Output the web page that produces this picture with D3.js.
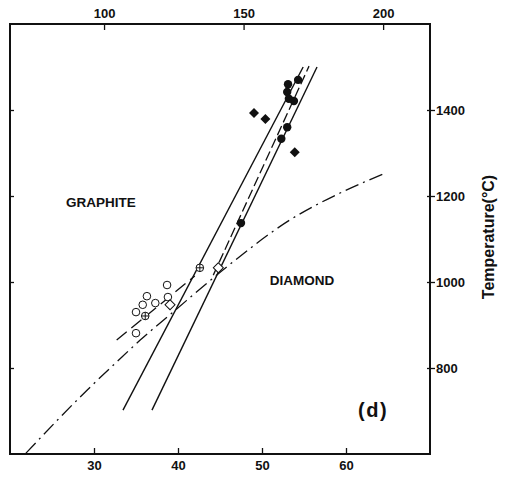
<!DOCTYPE html>
<html>
<head>
<meta charset="utf-8">
<script src="https://cdn.jsdelivr.net/npm/d3@7"></script>
<style>
  body { margin: 0; background: #fff; }
  text { font-family: "Liberation Sans", Arial, sans-serif; font-weight: bold; fill: #111; }
</style>
</head>
<body>
<div id="chart"></div>
<script>
// pressure (kbar, bottom) / depth (km, top) vs temperature
var bottomTicks = [30, 40, 50, 60],
    topTicks = [100, 150, 200],
    tempTicks = [800, 1000, 1200, 1400];

// graphite-diamond boundary (dash-dot) and upper dashed boundary
var boundaryP = [21.9, 29.2, 32.7, 35.5, 39.4, 45.8, 53.3, 59.3, 64.4],
    boundaryT = [602, 749, 814, 865, 930, 1035, 1144, 1207, 1251];
var upperP = [32.7, 42.0],
    upperT = [865, 1014];

// steep lines
var leftLineP = [33.45, 54.9], leftLineT = [702, 1500];
var rightLineP = [36.9, 56.55], rightLineT = [702, 1500];
var dashLineP = [44.2, 55.6], dashLineT = [1016, 1502];

// markers
var filledCircP = [53.1, 54.3, 53.0, 53.2, 53.8, 53.0, 52.3, 47.5],
    filledCircT = [1460, 1470, 1442, 1426, 1421, 1360, 1333, 1137];
var filledDiaP = [49.05, 50.4, 53.9],
    filledDiaT = [1393, 1379, 1302];
var openCircP = [38.7, 36.3, 35.8, 35.0, 37.3, 38.8, 35.0],
    openCircT = [993, 967, 947, 930, 951, 965, 881];
var crossCircP = [36.1, 42.6],
    crossCircT = [921, 1033];
var openDiaP = [39.05, 44.8],
    openDiaT = [947, 1033];

var width = 506, height = 478;

var x = d3.scaleLinear().domain([20, 70]).range([10, 430]);
var xTop = d3.scaleLinear().domain([66.3, 216.8]).range([10, 430]);
var y = d3.scaleLinear().domain([600, 1600]).range([454, 24]);

var svg = d3.select("#chart").append("svg")
    .attr("width", width)
    .attr("height", height);

function pts(P, T) { return P.map(function(p, i) { return [p, T[i]]; }); }

var line = d3.line().x(function(d) { return x(d[0]); }).y(function(d) { return y(d[1]); });
var curve = d3.line().curve(d3.curveMonotoneX).x(function(d) { return x(d[0]); }).y(function(d) { return y(d[1]); });

// axes
var gTop = svg.append("g").attr("transform", "translate(0,24)")
    .call(d3.axisTop(xTop).tickValues(topTicks).tickSize(-6).tickPadding(6).tickFormat(d3.format("d")));
var gBot = svg.append("g").attr("transform", "translate(0,454)")
    .call(d3.axisBottom(x).tickValues(bottomTicks).tickSize(-6).tickPadding(7).tickFormat(d3.format("d")));
var gRight = svg.append("g").attr("transform", "translate(430,0)")
    .call(d3.axisRight(y).tickValues(tempTicks).tickSize(5).tickPadding(1).tickFormat(d3.format("d")));
var gRightIn = svg.append("g").attr("transform", "translate(430,0)")
    .call(d3.axisRight(y).tickValues(tempTicks).tickSize(-3).tickFormat(""));
var gLeft = svg.append("g").attr("transform", "translate(10,0)")
    .call(d3.axisLeft(y).tickValues(tempTicks).tickSize(-4).tickFormat(""));

[gTop, gBot, gRight, gRightIn, gLeft].forEach(function(g) {
    g.select(".domain").remove();
    g.selectAll(".tick line").attr("stroke", "#111").attr("stroke-width", 1.3);
    g.selectAll("text").attr("font-size", 13).attr("fill", "#111")
        .style("font-family", "'Liberation Sans', Arial, sans-serif").style("font-weight", "bold");
});

svg.append("rect")
    .attr("x", 10).attr("y", 24)
    .attr("width", 420).attr("height", 430)
    .attr("fill", "none").attr("stroke", "#111").attr("stroke-width", 2);

svg.append("text")
    .attr("transform", "translate(494,237) rotate(-90)")
    .attr("text-anchor", "middle")
    .attr("font-size", 16)
    .text("Temperature(°C)");

// lines
svg.append("path").attr("d", curve(pts(boundaryP, boundaryT)))
    .attr("fill", "none").attr("stroke", "#111").attr("stroke-width", 1.3)
    .attr("stroke-dasharray", "14,5,2,5");
svg.append("path").attr("d", line(pts(upperP, upperT)))
    .attr("fill", "none").attr("stroke", "#111").attr("stroke-width", 1.3)
    .attr("stroke-dasharray", "13,6");
svg.append("path").attr("d", line(pts(leftLineP, leftLineT)))
    .attr("fill", "none").attr("stroke", "#111").attr("stroke-width", 1.4);
svg.append("path").attr("d", line(pts(rightLineP, rightLineT)))
    .attr("fill", "none").attr("stroke", "#111").attr("stroke-width", 1.4);
svg.append("path").attr("d", line(pts(dashLineP, dashLineT)))
    .attr("fill", "none").attr("stroke", "#111").attr("stroke-width", 1.3)
    .attr("stroke-dasharray", "10,4");

// markers
svg.selectAll(".oc").data(pts(openCircP, openCircT)).enter().append("circle")
    .attr("cx", function(d) { return x(d[0]); }).attr("cy", function(d) { return y(d[1]); })
    .attr("r", 3.8).attr("fill", "#fff").attr("stroke", "#111").attr("stroke-width", 1);

var cc = svg.selectAll(".cc").data(pts(crossCircP, crossCircT)).enter().append("g")
    .attr("transform", function(d) { return "translate(" + x(d[0]) + "," + y(d[1]) + ")"; });
cc.append("circle").attr("r", 3.8).attr("fill", "#fff").attr("stroke", "#111").attr("stroke-width", 1);
cc.append("path").attr("d", "M-3.8,0H3.8M0,-3.8V3.8").attr("stroke", "#111").attr("stroke-width", 1);

svg.selectAll(".od").data(pts(openDiaP, openDiaT)).enter().append("path")
    .attr("d", d3.symbol(d3.symbolSquare, 50))
    .attr("transform", function(d) { return "translate(" + x(d[0]) + "," + y(d[1]) + ") rotate(45)"; })
    .attr("fill", "#fff").attr("stroke", "#111").attr("stroke-width", 1);

svg.selectAll(".fd").data(pts(filledDiaP, filledDiaT)).enter().append("path")
    .attr("d", d3.symbol(d3.symbolSquare, 50))
    .attr("transform", function(d) { return "translate(" + x(d[0]) + "," + y(d[1]) + ") rotate(45)"; })
    .attr("fill", "#111");

svg.selectAll(".fc").data(pts(filledCircP, filledCircT)).enter().append("circle")
    .attr("cx", function(d) { return x(d[0]); }).attr("cy", function(d) { return y(d[1]); })
    .attr("r", 4.2).attr("fill", "#111");

// labels
svg.append("text").attr("x", 101).attr("y", 207).attr("text-anchor", "middle")
    .attr("font-size", 13.5).text("GRAPHITE");
svg.append("text").attr("x", 302).attr("y", 285).attr("text-anchor", "middle")
    .attr("font-size", 13.5).text("DIAMOND");
svg.append("text").attr("x", 358).attr("y", 417)
    .attr("font-size", 20).attr("letter-spacing", 1.5).text("(d)");
</script>
</body>
</html>
